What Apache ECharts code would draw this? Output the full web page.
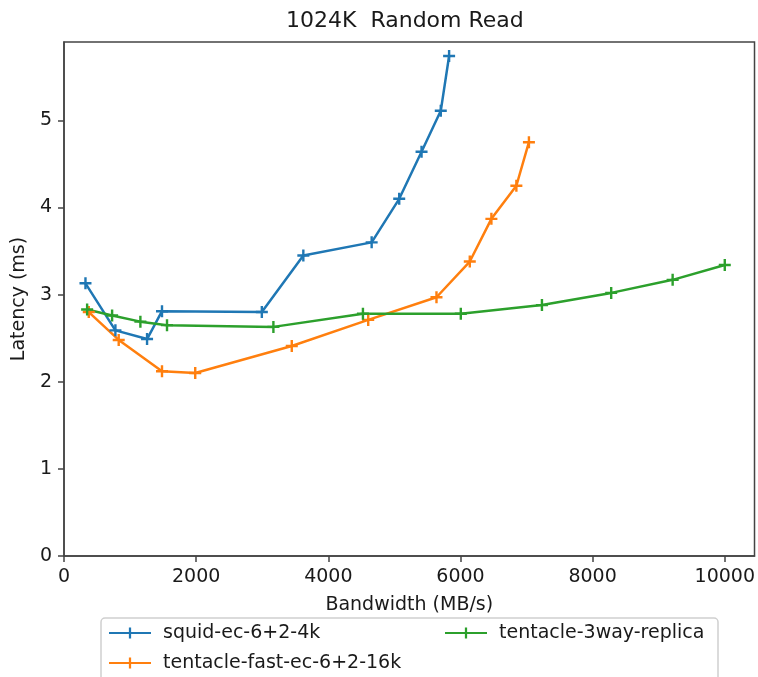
<!DOCTYPE html>
<html>
<head>
<meta charset="utf-8">
<script src="https://cdn.jsdelivr.net/npm/echarts@6/dist/echarts.min.js"></script>
<style>
  html, body { margin: 0; padding: 0; background: #fff; }
  #chart { width: 758px; height: 677px; }
</style>
</head>
<body>
<div id="chart"></div>
<script>
// bandwidth (MB/s) and latency (ms) per series
const squidBw = [325, 778, 1257, 1483, 2994, 3622, 4656, 5073, 5411, 5702, 5828]
const squidLat = [3.13, 2.59, 2.49, 2.81, 2.80, 3.45, 3.60, 4.10, 4.64, 5.11, 5.74]
const fastBw = [375, 828, 1483, 1986, 3447, 4604, 5637, 6141, 6468, 6846, 7036]
const fastLat = [2.80, 2.48, 2.12, 2.10, 2.41, 2.71, 2.97, 3.38, 3.87, 4.25, 4.75]
const replicaBw = [350, 728, 1156, 1559, 3169, 4524, 6005, 7233, 8281, 9211, 10000]
const replicaLat = [2.83, 2.76, 2.69, 2.65, 2.63, 2.78, 2.78, 2.88, 3.02, 3.17, 3.34]

const seriesNames = ['squid-ec-6+2-4k', 'tentacle-fast-ec-6+2-16k', 'tentacle-3way-replica']
const colors = ['#1f77b4', '#ff7f0e', '#2ca02c']

const FONT = 'DejaVu Sans'
const plus = 'path://M4,0H6V4H10V6H6V10H4V6H0V4H4Z'

const pairs = (xs, ys) => xs.map((x, i) => [x, ys[i]])

const mkSeries = (name, data, color) => ({
  name: name,
  type: 'line',
  data: data,
  symbol: plus,
  symbolSize: 12,
  showAllSymbol: true,
  lineStyle: { width: 2.5, color: color },
  itemStyle: { color: color },
  emphasis: { disabled: true },
  animation: false
})

const chart = echarts.init(document.getElementById('chart'))
const legendText = { fontFamily: FONT, fontSize: 19, color: '#1a1a1a', lineHeight: 22, padding: [0, 0, 0, 7] }

chart.setOption({
  title: {
    text: '1024K  Random Read',
    left: 286,
    top: 10,
    padding: 0,
    textStyle: { fontFamily: FONT, fontSize: 22, fontWeight: 'normal', color: '#1a1a1a' }
  },
  graphic: [{
    type: 'rect',
    z: 1,
    shape: { x: 101, y: 618, width: 617, height: 80, r: 4 },
    style: { fill: '#fff', stroke: '#cfcfcf', lineWidth: 1.5 }
  }],
  legend: [{
    orient: 'vertical',
    left: 108,
    top: 622,
    padding: 0,
    itemWidth: 42,
    itemHeight: 14,
    itemGap: 8,
    data: [seriesNames[0], seriesNames[1]],
    textStyle: legendText
  }, {
    orient: 'vertical',
    left: 444,
    top: 622,
    padding: 0,
    itemWidth: 42,
    itemHeight: 14,
    data: [seriesNames[2]],
    textStyle: legendText
  }],
  grid: { left: 64, right: 3, top: 42, bottom: 121, show: true, borderColor: '#444', borderWidth: 1.5 },
  xAxis: {
    type: 'value',
    min: 0,
    max: 10450,
    interval: 2000,
    name: 'Bandwidth (MB/s)',
    nameLocation: 'middle',
    nameGap: 40,
    nameTextStyle: { fontFamily: FONT, fontSize: 19, color: '#1a1a1a' },
    axisLine: { show: true, onZero: false, lineStyle: { color: '#444', width: 1.5 } },
    axisTick: { show: true, length: 6, lineStyle: { color: '#444', width: 1.5 } },
    axisLabel: { fontFamily: FONT, fontSize: 19, color: '#1a1a1a', margin: 12, showMaxLabel: false, formatter: v => String(v) },
    splitLine: { show: false }
  },
  yAxis: {
    type: 'value',
    min: 0,
    max: 5.9,
    interval: 1,
    name: 'Latency (ms)',
    nameLocation: 'middle',
    nameGap: 32,
    nameTextStyle: { fontFamily: FONT, fontSize: 19, color: '#1a1a1a' },
    axisLine: { show: true, lineStyle: { color: '#444', width: 1.5 } },
    axisTick: { show: true, length: 6, lineStyle: { color: '#444', width: 1.5 } },
    axisLabel: { fontFamily: FONT, fontSize: 19, color: '#1a1a1a', margin: 12, showMaxLabel: false, formatter: v => String(v) },
    splitLine: { show: false }
  },
  series: [
    mkSeries(seriesNames[0], pairs(squidBw, squidLat), colors[0]),
    mkSeries(seriesNames[1], pairs(fastBw, fastLat), colors[1]),
    mkSeries(seriesNames[2], pairs(replicaBw, replicaLat), colors[2])
  ]
})
</script>
</body>
</html>
